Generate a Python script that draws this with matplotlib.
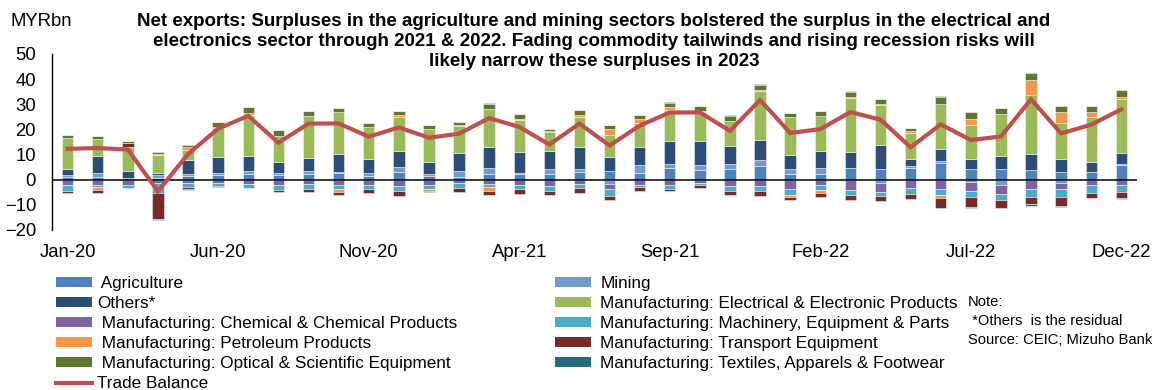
import matplotlib
matplotlib.use("Agg")
import matplotlib.pyplot as plt
from matplotlib.patches import Patch
from matplotlib.lines import Line2D
import numpy as np

plt.rcParams['font.family'] = ['Liberation Sans', 'DejaVu Sans']

months = ["Jan-20", "Feb-20", "Mar-20", "Apr-20", "May-20", "Jun-20", "Jul-20", "Aug-20", "Sep-20",
          "Oct-20", "Nov-20", "Dec-20", "Jan-21", "Feb-21", "Mar-21", "Apr-21", "May-21", "Jun-21",
          "Jul-21", "Aug-21", "Sep-21", "Oct-21", "Nov-21", "Dec-21", "Jan-22", "Feb-22", "Mar-22",
          "Apr-22", "May-22", "Jun-22", "Jul-22", "Aug-22", "Sep-22", "Oct-22", "Nov-22", "Dec-22"]

# Net exports by sector, MYR bn
agriculture = [1.2, 1.2, 0.5, 0.8, 1.4, 2.0, 2.3, 1.8, 2.1, 2.7, 1.5, 3.0,
               1.5, 0.9, 2.4, 2.1, 2.1, 3.0, 3.3, 2.8, 4.5, 3.7, 4.4, 5.4,
               2.1, 2.1, 4.5, 4.1, 4.7, 6.7, 4.4, 4.1, 3.8, 3.0, 3.2, 5.7]
mining = [0.8, 1.5, 0.3, 0.9, 0.7, 0.8, 1.0, 0.7, 1.2, 0.5, 1.3, 2.0,
          0.7, 2.4, 2.1, 0.7, 2.2, 1.3, -1.6, 2.9, 1.6, 2.1, 1.7, 2.6,
          2.0, 2.6, 0.0, -1.5, 0.7, 0.7, -1.0, -2.2, 0.0, -1.2, 0.0, 0.4]
others = [2.2, 6.7, 2.5, 0.9, 5.7, 6.2, 6.1, 4.5, 5.3, 7.0, 5.6, 6.3,
          4.9, 7.4, 8.4, 8.2, 7.0, 8.6, 5.9, 7.2, 9.2, 9.5, 7.2, 7.7,
          5.9, 6.9, 6.4, 9.6, 2.9, 4.9, 4.0, 5.3, 6.5, 5.3, 3.9, 4.6]
electrical = [12.2, 6.8, 9.6, 7.2, 4.1, 11.7, 16.3, 10.5, 16.9, 16.6, 12.4, 13.6,
              13.2, 10.8, 15.3, 12.6, 7.7, 12.0, 8.7, 9.7, 12.3, 11.6, 10.2, 19.4,
              14.9, 13.9, 21.6, 15.9, 10.3, 17.9, 13.5, 16.9, 23.2, 14.3, 17.7, 21.5]
chemical = [-2.2, -2.1, -2.1, -1.5, -1.4, -1.5, -1.8, -2.2, -1.8, -2.1, -2.0, -2.5,
            -2.0, -1.3, -1.7, -2.2, -2.6, -1.8, -2.2, -2.2, -2.2, -1.5, -2.6, -2.5,
            -3.8, -2.2, -4.2, -3.4, -3.4, -3.8, -3.6, -3.6, -3.6, -2.6, -2.2, -2.2]
machinery = [-2.2, -0.8, -1.3, -3.7, -1.5, -1.0, -1.6, -2.0, -2.0, -1.5, -1.8, -2.1,
             -1.6, -2.0, -1.2, -1.5, -2.0, -1.6, -2.6, -0.8, -1.3, -0.8, -1.7, -2.1,
             -2.4, -2.0, -2.0, -1.6, -2.2, -2.4, -2.4, -2.4, -3.2, -2.9, -3.2, -2.5]
petroleum = [0.2, -1.3, 0.3, 0.6, 1.1, 0.3, 0.8, 0.0, 0.0, -1.2, 0.0, 0.7,
             -0.8, 0.3, -1.6, 0.7, 0.2, 0.8, 2.2, 1.6, 1.3, 0.5, 0.0, 0.7,
             -0.5, -1.2, 0.3, 0.7, 0.7, -0.9, 2.4, 0.0, 6.2, 4.2, 2.1, 0.7]
transport = [-1.0, -0.9, 1.5, -10.3, -0.6, -0.3, 0.0, -0.7, -1.0, -1.4, -1.6, -1.8,
             -0.6, -1.5, -1.5, -1.8, -1.5, -2.0, -1.6, -1.6, -1.1, -0.9, -1.8, -1.8,
             -1.3, -1.5, -2.0, -2.0, -2.1, -4.0, -3.8, -3.0, -3.0, -3.7, -2.0, -2.4]
optical = [1.2, 1.3, 0.5, 0.8, 1.0, 1.8, 2.3, 2.2, 1.9, 1.8, 1.8, 1.6,
           1.3, 1.3, 1.9, 2.0, 1.1, 2.0, 1.7, 1.4, 1.8, 2.1, 1.7, 1.8,
           1.6, 1.7, 1.9, 1.9, 1.3, 2.6, 2.6, 2.2, 2.6, 2.4, 2.3, 2.6]
textiles = [0.0, 0.0, 0.0, -0.5, -0.5, 0.0, 0.0, 0.0, 0.0, 0.0, 0.0, 0.0,
            0.0, 0.0, 0.4, 0.0, 0.0, 0.0, 0.0, 0.0, 0.4, 0.0, 0.4, 0.5,
            0.0, 0.0, 0.4, 0.0, 0.0, 0.3, -0.5, 0.0, -0.6, -0.4, 0.0, -0.7]
trade_balance = [12.3, 12.6, 12.0, -4.6, 10.2, 20.3, 25.4, 14.7, 22.3, 22.4, 17.1, 20.8,
                 16.7, 18.3, 24.5, 21.0, 14.0, 22.3, 13.6, 21.5, 26.7, 26.8, 19.4, 31.7,
                 18.6, 20.1, 26.9, 23.9, 12.9, 22.0, 15.8, 17.2, 32.0, 18.4, 21.9, 28.0]

series = [
    ("Agriculture", agriculture, "#4F81BD"),
    ("Mining", mining, "#729ACA"),
    ("Others*", others, "#2C4D75"),
    ("Manufacturing: Electrical & Electronic Products", electrical, "#9BBB59"),
    ("Manufacturing: Chemical & Chemical Products", chemical, "#8064A2"),
    ("Manufacturing: Machinery, Equipment & Parts", machinery, "#4BACC6"),
    ("Manufacturing: Petroleum Products", petroleum, "#F79646"),
    ("Manufacturing: Transport Equipment", transport, "#772C2A"),
    ("Manufacturing: Optical & Scientific Equipment", optical, "#5F7530"),
    ("Manufacturing: Textiles, Apparels & Footwear", textiles, "#276A7C"),
]
line_color = "#C0504D"

W, H = 1155, 390
fig = plt.figure(figsize=(W / 100, H / 100), dpi=100)
ax = fig.add_axes([52 / W, 1 - 230 / H, 1085 / W, 176 / H])

x = np.arange(len(months))
pos_base = np.zeros(len(months))
neg_base = np.zeros(len(months))
handles = {}
for name, vals, col in series:
    v = np.array(vals, dtype=float)
    bottom = np.where(v >= 0, pos_base, neg_base)
    ax.bar(x, v, bottom=bottom, width=0.38, color=col,
           edgecolor=(1, 1, 1, 0.55), linewidth=0.6, zorder=2)
    pos_base += np.where(v > 0, v, 0)
    neg_base += np.where(v < 0, v, 0)
    handles[name] = Patch(facecolor=col, edgecolor='none')

ax.plot(x, trade_balance, color=line_color, linewidth=3.0, zorder=4,
        solid_joinstyle='miter')
ax.axhline(0, color='black', linewidth=1.1, zorder=3)

ax.set_xlim(-0.52, len(months) - 0.48)
ax.set_ylim(-20, 50)
ax.set_yticks(range(-20, 51, 10))
ax.set_xticks(x[::5])
ax.set_xticklabels(months[::5])
ax.tick_params(axis='both', length=0, labelsize=13.3)
ax.tick_params(axis='y', pad=11.5)
ax.tick_params(axis='x', pad=10)
for s in ['top', 'right', 'bottom']:
    ax.spines[s].set_visible(False)
ax.spines['left'].set_linewidth(1.0)

fig.text(10 / W, 1 - 21 / H, "MYRbn", fontsize=13.3, va='center', ha='left')
fig.text(594 / W, 1 - 13 / H,
         "Net exports: Surpluses in the agriculture and mining sectors bolstered the surplus in the electrical and\n"
         "electronics sector through 2021 & 2022. Fading commodity tailwinds and rising recession risks will\n"
         "likely narrow these surpluses in 2023",
         fontsize=13.5, fontweight='bold', ha='center', va='top', linespacing=1.22)

tb_handle = Line2D([0], [0], color=line_color, linewidth=3)
left_names = ["Agriculture", "Others*", "Manufacturing: Chemical & Chemical Products",
              "Manufacturing: Petroleum Products", "Manufacturing: Optical & Scientific Equipment"]
left_labels = [" Agriculture", "Others*", " Manufacturing: Chemical & Chemical Products",
               " Manufacturing: Petroleum Products", " Manufacturing: Optical & Scientific Equipment",
               "Trade Balance"]
right_names = ["Mining", "Manufacturing: Electrical & Electronic Products",
               "Manufacturing: Machinery, Equipment & Parts", "Manufacturing: Transport Equipment",
               "Manufacturing: Textiles, Apparels & Footwear"]

leg_kw = dict(frameon=False, fontsize=12.3, handlelength=2.1, handleheight=0.5,
              handletextpad=0.3, labelspacing=0.295, borderpad=0, borderaxespad=0,
              loc='upper left')
fig.legend([handles[n] for n in left_names] + [tb_handle], left_labels,
           bbox_to_anchor=(56 / W, 1 - 276 / H), **leg_kw)
fig.legend([handles[n] for n in right_names], right_names,
           bbox_to_anchor=(555 / W, 1 - 276 / H),
           **{**leg_kw, 'handletextpad': 0.55})

fig.text(968 / W, 1 - 302 / H, "Note:", fontsize=10.6, va='center', ha='left')
fig.text(968 / W, 1 - 321 / H, " *Others  is the residual", fontsize=10.6, va='center', ha='left')
fig.text(968 / W, 1 - 340 / H, "Source: CEIC; Mizuho Bank", fontsize=10.6, va='center', ha='left')

fig.savefig("out.png", dpi=100)
